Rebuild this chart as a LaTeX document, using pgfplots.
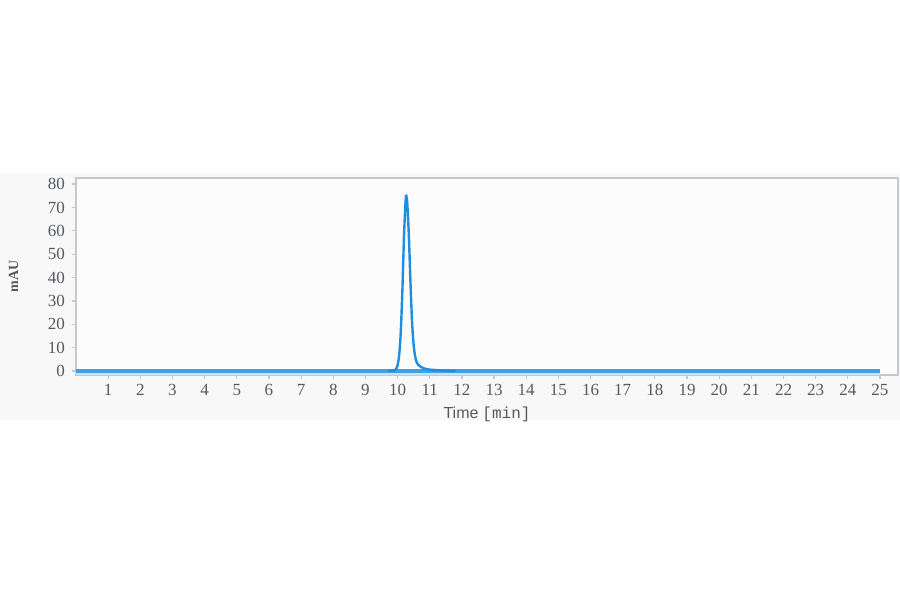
\documentclass[border=0pt]{standalone}
\usepackage{pgfplots}
\pgfplotsset{compat=1.18}
\usepackage{fontspec}
\setmainfont{Liberation Serif}
\newfontfamily\sansf{Liberation Sans}
\newfontfamily\monof{Liberation Mono}
\definecolor{peak}{HTML}{1E8FE0}
\definecolor{frame}{HTML}{C4C8D0}
\definecolor{band}{HTML}{F8F8F8}
\definecolor{ticktext}{HTML}{555A60}
\begin{document}
\begin{tikzpicture}
\path[use as bounding box, fill=white] (0pt,0pt) rectangle (450pt,297pt);
\fill[band] (0pt,87pt) rectangle (450pt,210.5pt);
\begin{axis}[
  at={(38pt,109.5pt)}, anchor=south west,
  scale only axis, width=411pt, height=98.5pt,
  xmin=0, xmax=25.56, ymin=-1.7, ymax=82.6,
  axis background/.style={fill=white!60!band},
  axis line style={frame, line width=0.8pt},
  xtick={1,...,25}, ytick={0,10,...,80},
  tick align=outside, tick style={frame, line width=0.6pt},
  major tick length=2pt,
  xtick pos=bottom, ytick pos=left,
  tick label style={font=\fontsize{8.5}{9}\selectfont, text=ticktext},
  /pgf/number format/assume math mode=true,
  xticklabel style={yshift=1pt},
  yticklabel style={xshift=0pt},
  xlabel={{\sansf Time} {\monof [min]}},
  xlabel style={font=\fontsize{8}{9}\selectfont, text=ticktext, yshift=1pt},
  ylabel={\textbf{mAU}},
  ylabel style={font=\fontsize{7}{8}\selectfont, text=ticktext, yshift=8pt},
  clip=true,
]
\addplot[draw=none, fill=peak!25] coordinates {(0,-1.7) (25,-1.7) (25,0) (0,0)} -- cycle;
\addplot[peak!85!white, line width=1.6pt] coordinates {(0,0) (25,0)};
\addplot[peak, line width=1.2pt, smooth] coordinates {
(9.70,0) (9.90,0.3) (9.95,0.8) (10.00,2.5) (10.05,7) (10.10,17) (10.15,35)
(10.20,58) (10.25,73) (10.27,75) (10.30,72) (10.35,58) (10.40,38) (10.45,21)
(10.50,11) (10.55,6) (10.60,3.5) (10.70,2) (10.80,1.2) (10.90,0.8) (11.00,0.6)
(11.20,0.4) (11.50,0.1) (11.80,0)};
\end{axis}
\end{tikzpicture}
\end{document}
